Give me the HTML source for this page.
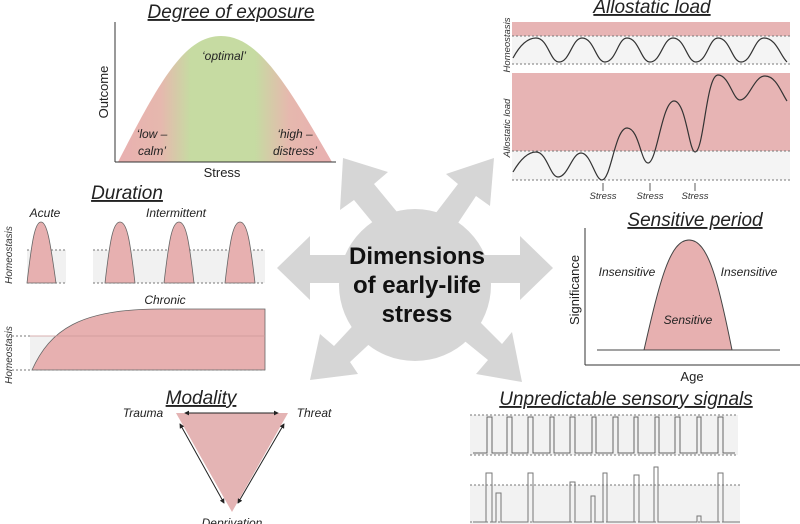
<!DOCTYPE html>
<html><head><meta charset="utf-8"><style>
html,body{margin:0;padding:0;background:#fff;}
svg{display:block;font-family:"Liberation Sans",sans-serif;}
.t{font-style:italic;font-size:19px;text-decoration:underline;fill:#222;}
.i{font-style:italic;font-size:12px;fill:#222;}
.d{stroke:#777;stroke-width:1;stroke-dasharray:2,2;fill:none;}
</style></head><body>
<svg width="800" height="524" viewBox="0 0 800 524" xmlns="http://www.w3.org/2000/svg">
<defs>
<linearGradient id="g1" x1="118" x2="332" gradientUnits="userSpaceOnUse">
<stop offset="0" stop-color="#e9b0b0"/><stop offset="0.2" stop-color="#e6b8ae"/>
<stop offset="0.34" stop-color="#c6dba2"/><stop offset="0.64" stop-color="#c6dba2"/>
<stop offset="0.8" stop-color="#e6b8ae"/><stop offset="1" stop-color="#e9b0b0"/>
</linearGradient>
<marker id="ah" viewBox="0 0 6 6" refX="5" refY="3" markerWidth="5" markerHeight="5" orient="auto-start-reverse"><path d="M0,0 L6,3 L0,6 Z" fill="#222"/></marker>
</defs>
<!-- center -->
<g fill="#d6d6d6">
<circle cx="415" cy="285" r="76"/>
<polygon points="277,268 310,236 310,255 360,255 360,283 310,283 310,300"/>
<polygon points="553,268 520,236 520,255 470,255 470,283 520,283 520,300"/>
<polygon points="343,158 388,172 374,184 402,218 382,234 354,200 340,210"/>
<polygon points="494,158 490,206 476,196 452,232 432,218 458,184 446,174"/>
<polygon points="310,380 320,334 334,346 362,316 380,334 350,362 358,374"/>
<polygon points="522,382 476,374 488,360 456,334 474,316 502,344 512,332"/>
</g>
<text x="417" y="264" text-anchor="middle" font-weight="bold" font-size="24" fill="#111">Dimensions</text>
<text x="417" y="293" text-anchor="middle" font-weight="bold" font-size="24" fill="#111">of early-life</text>
<text x="417" y="322" text-anchor="middle" font-weight="bold" font-size="24" fill="#111">stress</text>

<!-- Degree of exposure -->
<text x="231" y="18" text-anchor="middle" class="t">Degree of exposure</text>
<path d="M118,162 C160,80 185,36 221,36 C257,36 285,80 332,162 Z" fill="url(#g1)"/>
<line x1="115" y1="22" x2="115" y2="162" stroke="#333"/>
<line x1="115" y1="162" x2="336" y2="162" stroke="#333"/>
<text transform="translate(108,92) rotate(-90)" text-anchor="middle" font-size="13" fill="#222">Outcome</text>
<text x="224" y="60" text-anchor="middle" class="i" fill="#333">‘optimal’</text>
<text x="152" y="138" text-anchor="middle" class="i">‘low –</text>
<text x="152" y="155" text-anchor="middle" class="i">calm’</text>
<text x="295" y="138" text-anchor="middle" class="i">‘high –</text>
<text x="295" y="155" text-anchor="middle" class="i">distress’</text>
<text x="222" y="177" text-anchor="middle" font-size="13" fill="#222">Stress</text>

<!-- Duration -->
<text x="127" y="199" text-anchor="middle" class="t">Duration</text>
<text x="45" y="217" text-anchor="middle" class="i">Acute</text>
<text x="176" y="217" text-anchor="middle" class="i">Intermittent</text>
<rect x="27" y="250" width="39" height="33" fill="#f1f1f1"/>
<rect x="93" y="250" width="172" height="33" fill="#f1f1f1"/>
<line x1="27" y1="250" x2="66" y2="250" class="d"/><line x1="27" y1="283" x2="66" y2="283" class="d"/>
<line x1="93" y1="250" x2="265" y2="250" class="d"/><line x1="93" y1="283" x2="265" y2="283" class="d"/>
<g fill="#e7b0b0" stroke="#666" stroke-width="0.8">
<path d="M27,283 C32,240 35,222 41,222 C47,222 50,240 56,283 Z"/>
<path d="M105,283 C110,240 113,222 120,222 C127,222 130,240 135,283 Z"/>
<path d="M164,283 C169,240 172,222 179,222 C186,222 189,240 194,283 Z"/>
<path d="M225,283 C230,240 233,222 240,222 C247,222 250,240 255,283 Z"/>
</g>
<text transform="translate(12,255) rotate(-90)" text-anchor="middle" font-size="10" font-style="italic" fill="#333">Homeostasis</text>
<text x="165" y="304" text-anchor="middle" class="i">Chronic</text>
<rect x="30" y="336" width="235" height="34" fill="#f1f1f1"/>
<path d="M32,370 C50,330 80,309 160,309 L265,309 L265,370 Z" fill="#e7b0b0" stroke="#666" stroke-width="0.8"/>
<line x1="30" y1="336" x2="265" y2="336" stroke="#c99" stroke-width="0.8"/>
<line x1="12" y1="336" x2="30" y2="336" class="d"/>
<line x1="12" y1="370" x2="265" y2="370" class="d"/>
<text transform="translate(12,355) rotate(-90)" text-anchor="middle" font-size="10" font-style="italic" fill="#333">Homeostasis</text>

<!-- Modality -->
<text x="201" y="404" text-anchor="middle" class="t">Modality</text>
<polygon points="176,413 288,413 232,512" fill="#e4b4b4"/>
<g stroke="#222" stroke-width="1">
<line x1="185" y1="413" x2="278" y2="413" marker-start="url(#ah)" marker-end="url(#ah)"/>
<line x1="180" y1="424" x2="224" y2="503" marker-start="url(#ah)" marker-end="url(#ah)"/>
<line x1="284" y1="424" x2="238" y2="503" marker-start="url(#ah)" marker-end="url(#ah)"/>
</g>
<text x="143" y="417" text-anchor="middle" class="i">Trauma</text>
<text x="314" y="417" text-anchor="middle" class="i">Threat</text>
<text x="232" y="527" text-anchor="middle" class="i">Deprivation</text>

<!-- Allostatic load -->
<text x="652" y="13" text-anchor="middle" class="t">Allostatic load</text>
<rect x="512" y="22" width="278" height="14" fill="#e7b4b4"/>
<rect x="512" y="36" width="278" height="28" fill="#f4f4f4"/>
<line x1="512" y1="36" x2="790" y2="36" class="d"/><line x1="512" y1="64" x2="790" y2="64" class="d"/>
<path d="M513,58 C520,45 528,38 536,38 C548,38 550,62 559,62 C570,62 572,38 582,38 C594,38 596,62 605,62 C616,62 618,38 627,38 C639,38 641,62 650,62 C661,62 663,38 673,38 C685,38 687,62 696,62 C707,62 709,38 718,38 C730,38 732,62 741,62 C752,62 754,38 764,38 C776,38 780,55 787,62" fill="none" stroke="#333" stroke-width="1.2"/>
<text transform="translate(510,45) rotate(-90)" text-anchor="middle" font-size="9.5" font-style="italic" fill="#333">Homeostasis</text>
<rect x="512" y="73" width="278" height="78" fill="#e7b4b4"/>
<rect x="512" y="151" width="278" height="29" fill="#f4f4f4"/>
<line x1="512" y1="151" x2="790" y2="151" class="d"/><line x1="512" y1="180" x2="790" y2="180" class="d"/>
<path d="M513,172 C520,160 528,152 536,152 C547,152 550,177 558,177 C568,177 572,153 581,153 C591,153 595,180 602,180 C611,180 615,128 627,128 C639,128 641,163 648,163 C657,163 662,101 674,101 C686,101 689,152 695,152 C704,152 706,75 718,75 C729,75 733,100 740,100 C749,100 754,76 765,76 C776,76 781,92 787,101" fill="none" stroke="#333" stroke-width="1.2"/>
<text transform="translate(510,128) rotate(-90)" text-anchor="middle" font-size="9.5" font-style="italic" fill="#333">Allostatic load</text>
<g font-size="9.5" font-style="italic" fill="#333" text-anchor="middle">
<text x="603" y="199">Stress</text><text x="650" y="199">Stress</text><text x="695" y="199">Stress</text></g>
<g stroke="#333" stroke-width="0.8"><line x1="603" y1="183" x2="603" y2="191"/><line x1="650" y1="183" x2="650" y2="191"/><line x1="695" y1="183" x2="695" y2="191"/></g>

<!-- Sensitive period -->
<text x="695" y="226" text-anchor="middle" class="t">Sensitive period</text>
<line x1="585" y1="228" x2="585" y2="365" stroke="#333"/>
<line x1="585" y1="365" x2="800" y2="365" stroke="#333"/>
<line x1="597" y1="350" x2="780" y2="350" stroke="#444"/>
<path d="M644,350 C660,280 670,240 689,240 C708,240 718,280 732,350 Z" fill="#e7b0b0" stroke="#444"/>
<text transform="translate(579,290) rotate(-90)" text-anchor="middle" font-size="13" fill="#222">Significance</text>
<text x="627" y="276" text-anchor="middle" class="i">Insensitive</text>
<text x="749" y="276" text-anchor="middle" class="i">Insensitive</text>
<text x="688" y="324" text-anchor="middle" class="i">Sensitive</text>
<text x="692" y="381" text-anchor="middle" font-size="13" fill="#222">Age</text>

<!-- Unpredictable -->
<text x="626" y="405" text-anchor="middle" class="t">Unpredictable sensory signals</text>
<rect x="470" y="415" width="268" height="40" fill="#f2f2f2"/>
<line x1="470" y1="415" x2="738" y2="415" class="d"/><line x1="470" y1="455" x2="738" y2="455" class="d"/>
<path d="M473,453 H487 V417 H492 V453 H507 V417 H512 V453 H528 V417 H533 V453 H550 V417 H554 V453 H570 V417 H575 V453 H592 V417 H596 V453 H613 V417 H618 V453 H634 V417 H638 V453 H655 V417 H659 V453 H675 V417 H680 V453 H697 V417 H701 V453 H718 V417 H723 V453 H735" fill="none" stroke="#666"/>
<rect x="470" y="485" width="270" height="39" fill="#f2f2f2"/>
<line x1="470" y1="485" x2="740" y2="485" class="d"/><line x1="470" y1="522" x2="740" y2="522" class="d"/>
<path d="M473,522 H486 V473 H492 V522 H496 V493 H501 V522 H528 V473 H533 V522 H570 V482 H575 V522 H591 V496 H595 V522 H603 V473 H607 V522 H634 V475 H639 V522 H654 V467 H658 V522 H697 V516 H701 V522 H718 V473 H723 V522 H738" fill="none" stroke="#777"/>
</svg>
</body></html>
